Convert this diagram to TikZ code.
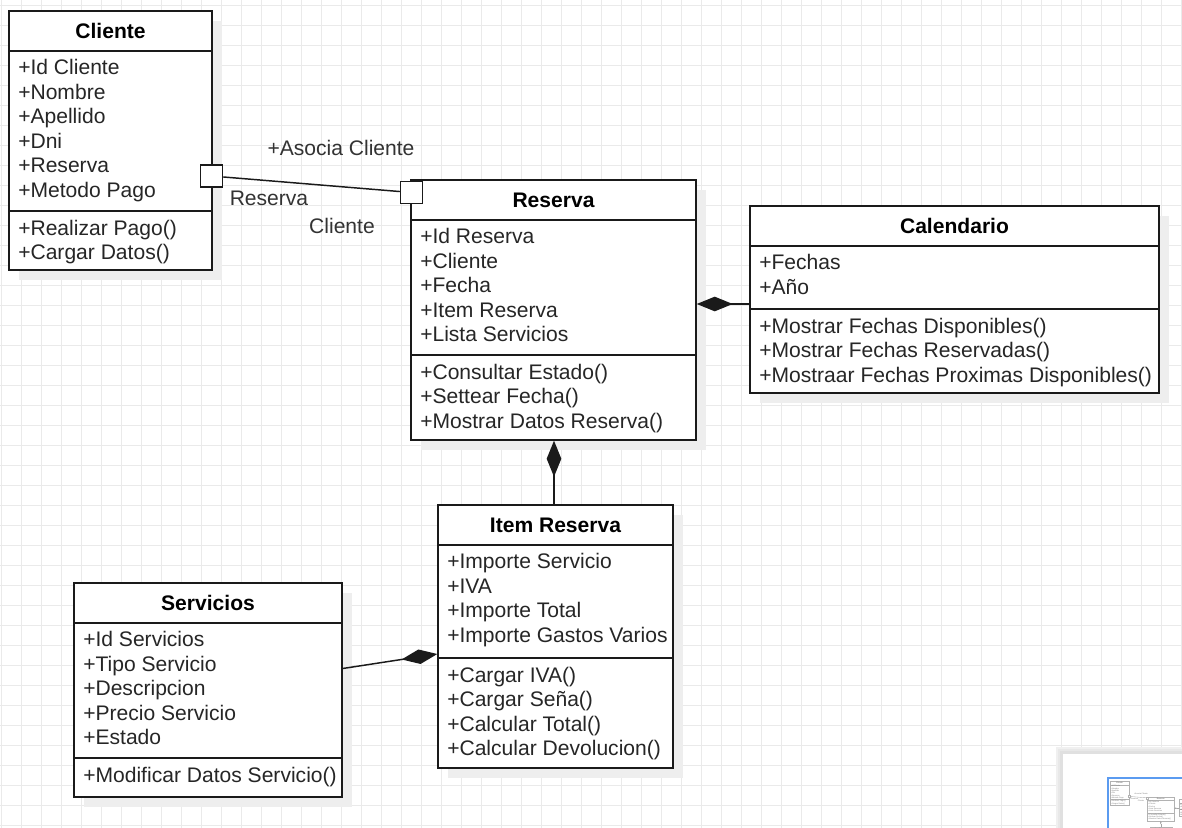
\documentclass[tikz,border=0pt]{standalone}
\usepackage{fontspec}
\setmainfont{Liberation Sans}
\usetikzlibrary{arrows.meta,calc}

\definecolor{gridcol}{HTML}{EAEAEA}
\definecolor{inkcol}{HTML}{1A1A1A}
\definecolor{textcol}{HTML}{262626}
\definecolor{labelcol}{HTML}{333333}
\definecolor{shadowcol}{HTML}{EEEEEE}
\definecolor{viewcol}{HTML}{5B9BF0}

\tikzset{
  box/.style={draw=inkcol, fill=white, line width=1.1pt, inner sep=0pt},
  sepline/.style={draw=inkcol, line width=1.1pt},
  boxshadow/.style={fill=shadowcol},
  classtitle/.style={font=\fontsize{15.8}{18}\selectfont\bfseries, text=black, inner sep=0pt, anchor=base},
  member/.style={font=\fontsize{15.8}{18}\selectfont, text=textcol, inner sep=0pt, anchor=base west},
  rolelabel/.style={font=\fontsize{15.8}{18}\selectfont, text=labelcol, inner sep=0pt, anchor=base},
  link/.style={draw=inkcol, line width=1.1pt},
  comp/.style={link, -{Diamond[length=27pt,width=11pt]}},
  port/.style={draw=inkcol, fill=white, line width=1.1pt, minimum size=16.5pt, inner sep=0pt},
  gridline/.style={draw=gridcol, line width=0.75pt},
}

% one UML class: name, left, top, right, bottom, divider y, title, attributes, operations
\newcommand\umlclass[9]{%
  \fill[boxshadow] ({#2+10},{#3+10}) rectangle ({#4+10},{#5+10});
  \node[box, minimum width={(#4-#2)*0.75pt}, minimum height={(#5-#3)*0.75pt}]
    (#1) at ({(#2+#4)/2},{(#3+#5)/2}) {};
  \draw[sepline] (#2,{#3+40}) -- (#4,{#3+40});
  \draw[sepline] (#2,#6) -- (#4,#6);
  \node[classtitle] (#1-title) at ({(#2+#4)/2},{#3+27}) {#7};
  \foreach \m [count=\i] in {#8}
    \node[member] (#1-a\i) at ({#2+9},{#3+63.5+(\i-1)*24.5}) {\m};
  \foreach \m [count=\i] in {#9}
    \node[member] (#1-o\i) at ({#2+9},{#6+24+(\i-1)*24.5}) {\m};
}

% the whole class diagram; the argument prefixes every node name
\newcommand\drawdiagram[1]{%
  \umlclass{#1cliente}{9}{11}{212}{270}{211}{Cliente}
    {+Id Cliente,+Nombre,+Apellido,+Dni,+Reserva,+Metodo Pago}
    {+Realizar Pago(),+Cargar Datos()}
  \umlclass{#1reserva}{411}{180}{696}{440}{355}{Reserva}
    {+Id Reserva,+Cliente,+Fecha,+Item Reserva,+Lista Servicios}
    {+Consultar Estado(),+Settear Fecha(),+Mostrar Datos Reserva()}
  \umlclass{#1calendario}{750}{206}{1159}{393}{309}{Calendario}
    {+Fechas,+Año}
    {+Mostrar Fechas Disponibles(),+Mostrar Fechas Reservadas(),+Mostraar Fechas Proximas Disponibles()}
  \umlclass{#1itemreserva}{438}{505}{673}{768}{658}{Item Reserva}
    {+Importe Servicio,+IVA,+Importe Total,+Importe Gastos Varios}
    {+Cargar IVA(),+Cargar Seña(),+Calcular Total(),+Calcular Devolucion()}
  \umlclass{#1servicios}{74}{583}{342}{797}{758}{Servicios}
    {+Id Servicios,+Tipo Servicio,+Descripcion,+Precio Servicio,+Estado}
    {+Modificar Datos Servicio()}
  % association Cliente -- Reserva with its end ports and role names
  \node[port] (#1portcli) at (211.5,176) {};
  \node[port] (#1portres) at (411.5,192.5) {};
  \draw[link] (#1portcli) -- (#1portres);
  \node[rolelabel] (#1lblassoc) at (341,155) {+Asocia Cliente};
  \node[rolelabel] (#1lblres) at (269,205) {Reserva};
  \node[rolelabel] (#1lblcli) at (342,233.3) {Cliente};
  % compositions
  \draw[comp] (#1calendario.west |- 0,304) -- (#1reserva.east |- 0,304);
  \draw[comp] (#1itemreserva.north -| 554,0) -- (#1reserva.south -| 554,0);
  \draw[comp] (#1servicios.east |- 0,668.5) -- (#1itemreserva.west |- 0,654);
}

\begin{document}
\begin{tikzpicture}[x=0.75pt, y=-0.75pt]
  \useasboundingbox (0,0) rectangle (1182,828);
  \fill[white] (0,0) rectangle (1182,828);
  % background grid
  \foreach \gx in {1.7,21.7,...,1181.7} \draw[gridline] (\gx,0) -- (\gx,828);
  \foreach \gy in {5,25,...,825} \draw[gridline] (0,\gy) -- (1182,\gy);

  \drawdiagram{}

  % overview panel in the lower right corner
  \begin{scope}
    \clip (1055,746) rectangle (1182,828);
    \fill[black!6] (1056,747) rectangle (1190,840);
    \fill[black!9] (1058,749) rectangle (1190,840);
    \fill[black!12] (1060,751) rectangle (1190,840);
    \fill[white] (1063,754) rectangle (1190,840);
    \begin{scope}[shift={(1109.2,780)}, scale=0.093, transform shape,
        box/.style={draw=gray!60, fill=white, line width=0.25pt, inner sep=0pt},
        sepline/.style={draw=gray!60, line width=0.25pt},
        boxshadow/.style={fill=black!5},
        link/.style={draw=gray!70, line width=0.25pt},
        comp/.style={link, -{Diamond[length=2.5pt,width=1pt]}},
        port/.style={draw=gray!60, fill=white, line width=0.25pt, minimum size=16.5pt, inner sep=0pt},
        classtitle/.append style={text=gray},
        member/.append style={text=gray},
        rolelabel/.append style={text=gray}]
      \drawdiagram{mini-}
    \end{scope}
    \draw[viewcol, line width=0.9pt] (1108,778) rectangle (1220,857);
  \end{scope}
\end{tikzpicture}
\end{document}
